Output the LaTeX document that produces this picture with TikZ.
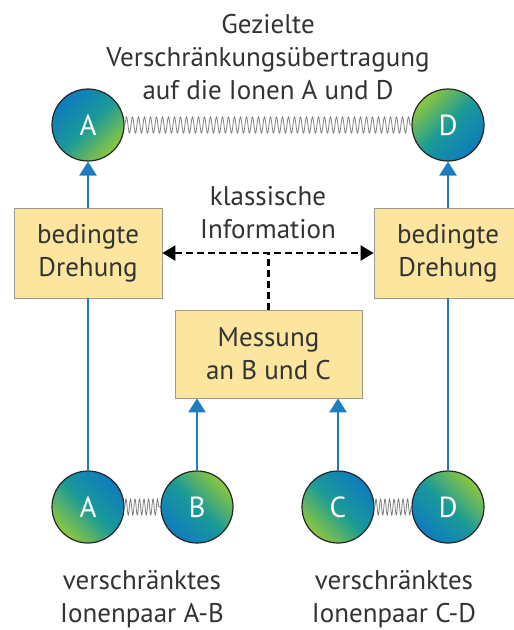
\documentclass[tikz,border=0pt]{standalone}
\usepackage{fontspec}
\setmainfont{PT Sans}
\usetikzlibrary{arrows.meta,decorations.pathmorphing}
\definecolor{ionblue}{HTML}{0E7BBE}
\definecolor{iongreen}{HTML}{8DC73F}
\definecolor{ionmid}{HTML}{1A9A98}
\definecolor{boxfill}{HTML}{FCE59F}
\definecolor{boxline}{HTML}{9C9A8C}
\definecolor{linkblue}{HTML}{1C7EC1}
\definecolor{txt}{HTML}{333333}
\begin{document}
\begin{tikzpicture}[x=1pt,y=-1pt,
  every node/.style={text=txt},
  lbl/.style={font=\fontsize{27}{33}\selectfont, align=center, inner sep=0pt},
  ion/.style={circle, draw=black!85, line width=1.2pt, minimum size=72pt, inner sep=0pt,
    text=white, font=\fontsize{29}{30}\selectfont},
  ionbg/.style={ion, top color=ionblue, bottom color=iongreen, middle color=ionmid, shading angle=#1},
  iongb/.style={ion, top color=iongreen, bottom color=ionblue, middle color=ionmid, shading angle=#1},
  stepbox/.style={draw=boxline, fill=boxfill, line width=0.8pt, align=center,
    font=\fontsize{27}{33}\selectfont, inner sep=0pt},
  spring/.style={draw=black!50, line width=0.8pt, decorate,
    decoration={snake, segment length=6pt, amplitude=8pt}},
  shortspring/.style={draw=black!50, line width=0.8pt, decorate,
    decoration={snake, segment length=4.5pt, amplitude=8pt}},
  link/.style={draw=linkblue, line width=2.6pt},
  linkarrow/.style={link, -{Triangle[length=14pt,width=17pt]}},
  info/.style={draw=black, line width=2.2pt, dash pattern=on 7pt off 4pt,
    {Triangle[length=13pt,width=15pt]}-{Triangle[length=13pt,width=15pt]}},
  infoline/.style={draw=black, line width=2.2pt, dash pattern=on 7pt off 4pt}
]
\useasboundingbox (0,0) rectangle (514,630);
\clip (0,0) rectangle (514,630);

% title
\node[lbl] (title) at (268,57) {Gezielte\\Verschränkungsübertragung\\auf die Ionen A und D};

% top ions
\node[ionbg=45] (tA) at (88,125) {A};
\node[iongb=45] (tD) at (448,125) {D};
\draw[spring] (tA.east) -- (tD.west);

% boxes
\node[stepbox, minimum width=148pt, minimum height=90pt] (lbox) at (88,253) {bedingte\\Drehung};
\node[stepbox, minimum width=148pt, minimum height=90pt] (rbox) at (448,253) {bedingte\\Drehung};
\node[stepbox, minimum width=187pt, minimum height=88pt] (mbox) at (268.5,354) {Messung\\an B und C};

% classical information
\node[lbl] (info) at (268,213) {klassische\\Information};
\coordinate (junc) at (mbox.north |- lbox.east);
\draw[info] (lbox.east) -- (rbox.west);
\draw[infoline] (mbox.north) -- (junc);

% bottom ions
\node[ionbg=-45] (bA) at (88,507) {A};
\node[iongb=-45] (bB) at (197,507) {B};
\node[ionbg=-45] (bC) at (338,507) {C};
\node[iongb=-45] (bD) at (448,507) {D};
\draw[shortspring] (bA.east) -- (bB.west);
\draw[shortspring] (bC.east) -- (bD.west);

% blue links
\draw[link] (bA.north) -- (lbox.south);
\draw[linkarrow] (lbox.north) -- (tA.south);
\draw[link] (bD.north) -- (rbox.south);
\draw[linkarrow] (rbox.north) -- (tD.south);
\draw[linkarrow] (bB.north) -- (bB.north |- mbox.south);
\draw[linkarrow] (bC.north) -- (bC.north |- mbox.south);

% bottom labels
\node[lbl] (pairAB) at (142,599) {verschränktes\\Ionenpaar A-B};
\node[lbl] (pairCD) at (394,599) {verschränktes\\Ionenpaar C-D};
\end{tikzpicture}
\end{document}
